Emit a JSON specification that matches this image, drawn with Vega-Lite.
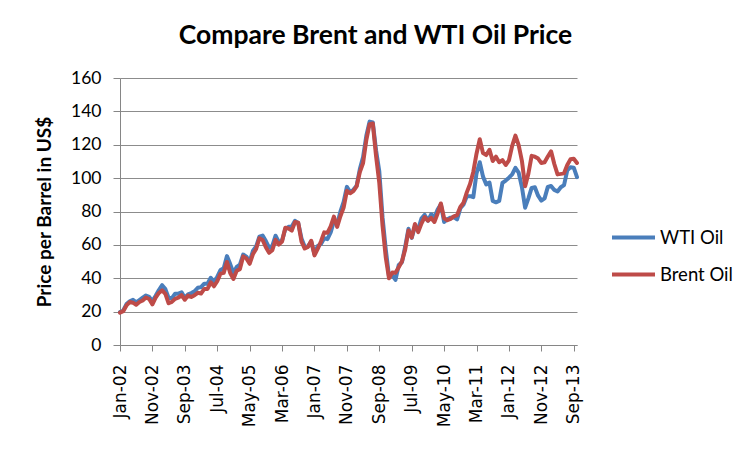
{
  "$schema": "https://vega.github.io/schema/vega-lite/v6.json",
  "autosize": {"type": "none"},
  "width": 457,
  "height": 267,
  "padding": {"left": 120, "top": 78, "right": 177, "bottom": 109},
  "background": "white",
  "title": {
    "text": "Compare Brent and WTI Oil Price",
    "font": "Lato",
    "fontSize": 26.5,
    "fontWeight": "bold",
    "color": "black",
    "anchor": "middle",
    "dx": 27,
    "offset": 20
  },
  "data": {
    "values": [
      {"month": "Jan-02", "WTI Oil": 19.71, "Brent Oil": 19.42},
      {"month": "Feb-02", "WTI Oil": 20.72, "Brent Oil": 20.28},
      {"month": "Mar-02", "WTI Oil": 24.53, "Brent Oil": 23.70},
      {"month": "Apr-02", "WTI Oil": 26.18, "Brent Oil": 25.73},
      {"month": "May-02", "WTI Oil": 27.04, "Brent Oil": 25.35},
      {"month": "Jun-02", "WTI Oil": 25.52, "Brent Oil": 24.08},
      {"month": "Jul-02", "WTI Oil": 26.97, "Brent Oil": 25.74},
      {"month": "Aug-02", "WTI Oil": 28.39, "Brent Oil": 26.65},
      {"month": "Sep-02", "WTI Oil": 29.66, "Brent Oil": 28.40},
      {"month": "Oct-02", "WTI Oil": 28.84, "Brent Oil": 27.54},
      {"month": "Nov-02", "WTI Oil": 26.35, "Brent Oil": 24.34},
      {"month": "Dec-02", "WTI Oil": 29.46, "Brent Oil": 28.33},
      {"month": "Jan-03", "WTI Oil": 32.95, "Brent Oil": 31.18},
      {"month": "Feb-03", "WTI Oil": 35.83, "Brent Oil": 32.77},
      {"month": "Mar-03", "WTI Oil": 33.51, "Brent Oil": 30.61},
      {"month": "Apr-03", "WTI Oil": 28.17, "Brent Oil": 25.00},
      {"month": "May-03", "WTI Oil": 28.11, "Brent Oil": 25.86},
      {"month": "Jun-03", "WTI Oil": 30.66, "Brent Oil": 27.65},
      {"month": "Jul-03", "WTI Oil": 30.76, "Brent Oil": 28.35},
      {"month": "Aug-03", "WTI Oil": 31.57, "Brent Oil": 29.89},
      {"month": "Sep-03", "WTI Oil": 28.31, "Brent Oil": 27.11},
      {"month": "Oct-03", "WTI Oil": 30.34, "Brent Oil": 29.61},
      {"month": "Nov-03", "WTI Oil": 31.11, "Brent Oil": 28.75},
      {"month": "Dec-03", "WTI Oil": 32.13, "Brent Oil": 29.81},
      {"month": "Jan-04", "WTI Oil": 34.31, "Brent Oil": 31.28},
      {"month": "Feb-04", "WTI Oil": 34.69, "Brent Oil": 30.86},
      {"month": "Mar-04", "WTI Oil": 36.74, "Brent Oil": 33.63},
      {"month": "Apr-04", "WTI Oil": 36.75, "Brent Oil": 33.59},
      {"month": "May-04", "WTI Oil": 40.28, "Brent Oil": 37.57},
      {"month": "Jun-04", "WTI Oil": 38.03, "Brent Oil": 35.18},
      {"month": "Jul-04", "WTI Oil": 40.78, "Brent Oil": 38.22},
      {"month": "Aug-04", "WTI Oil": 44.90, "Brent Oil": 42.74},
      {"month": "Sep-04", "WTI Oil": 45.94, "Brent Oil": 43.20},
      {"month": "Oct-04", "WTI Oil": 53.28, "Brent Oil": 49.78},
      {"month": "Nov-04", "WTI Oil": 48.47, "Brent Oil": 43.11},
      {"month": "Dec-04", "WTI Oil": 43.15, "Brent Oil": 39.60},
      {"month": "Jan-05", "WTI Oil": 46.84, "Brent Oil": 44.51},
      {"month": "Feb-05", "WTI Oil": 48.15, "Brent Oil": 45.48},
      {"month": "Mar-05", "WTI Oil": 54.19, "Brent Oil": 53.10},
      {"month": "Apr-05", "WTI Oil": 52.98, "Brent Oil": 51.88},
      {"month": "May-05", "WTI Oil": 49.83, "Brent Oil": 48.65},
      {"month": "Jun-05", "WTI Oil": 56.35, "Brent Oil": 54.35},
      {"month": "Jul-05", "WTI Oil": 59.00, "Brent Oil": 57.52},
      {"month": "Aug-05", "WTI Oil": 64.99, "Brent Oil": 63.98},
      {"month": "Sep-05", "WTI Oil": 65.59, "Brent Oil": 62.91},
      {"month": "Oct-05", "WTI Oil": 62.26, "Brent Oil": 58.54},
      {"month": "Nov-05", "WTI Oil": 58.32, "Brent Oil": 55.24},
      {"month": "Dec-05", "WTI Oil": 59.41, "Brent Oil": 56.86},
      {"month": "Jan-06", "WTI Oil": 65.49, "Brent Oil": 62.99},
      {"month": "Feb-06", "WTI Oil": 61.63, "Brent Oil": 60.21},
      {"month": "Mar-06", "WTI Oil": 62.69, "Brent Oil": 62.06},
      {"month": "Apr-06", "WTI Oil": 69.44, "Brent Oil": 70.26},
      {"month": "May-06", "WTI Oil": 70.84, "Brent Oil": 69.78},
      {"month": "Jun-06", "WTI Oil": 70.95, "Brent Oil": 68.56},
      {"month": "Jul-06", "WTI Oil": 74.41, "Brent Oil": 73.67},
      {"month": "Aug-06", "WTI Oil": 73.04, "Brent Oil": 73.23},
      {"month": "Sep-06", "WTI Oil": 63.80, "Brent Oil": 61.96},
      {"month": "Oct-06", "WTI Oil": 58.89, "Brent Oil": 57.81},
      {"month": "Nov-06", "WTI Oil": 59.08, "Brent Oil": 58.76},
      {"month": "Dec-06", "WTI Oil": 61.96, "Brent Oil": 62.47},
      {"month": "Jan-07", "WTI Oil": 54.51, "Brent Oil": 53.68},
      {"month": "Feb-07", "WTI Oil": 59.28, "Brent Oil": 57.56},
      {"month": "Mar-07", "WTI Oil": 60.44, "Brent Oil": 62.05},
      {"month": "Apr-07", "WTI Oil": 63.98, "Brent Oil": 67.49},
      {"month": "May-07", "WTI Oil": 63.46, "Brent Oil": 67.21},
      {"month": "Jun-07", "WTI Oil": 67.49, "Brent Oil": 71.05},
      {"month": "Jul-07", "WTI Oil": 74.12, "Brent Oil": 76.93},
      {"month": "Aug-07", "WTI Oil": 72.36, "Brent Oil": 70.76},
      {"month": "Sep-07", "WTI Oil": 79.92, "Brent Oil": 77.17},
      {"month": "Oct-07", "WTI Oil": 85.80, "Brent Oil": 82.34},
      {"month": "Nov-07", "WTI Oil": 94.77, "Brent Oil": 92.41},
      {"month": "Dec-07", "WTI Oil": 91.69, "Brent Oil": 90.93},
      {"month": "Jan-08", "WTI Oil": 92.97, "Brent Oil": 92.18},
      {"month": "Feb-08", "WTI Oil": 95.39, "Brent Oil": 94.99},
      {"month": "Mar-08", "WTI Oil": 105.45, "Brent Oil": 103.64},
      {"month": "Apr-08", "WTI Oil": 112.58, "Brent Oil": 109.07},
      {"month": "May-08", "WTI Oil": 125.40, "Brent Oil": 122.80},
      {"month": "Jun-08", "WTI Oil": 133.88, "Brent Oil": 132.32},
      {"month": "Jul-08", "WTI Oil": 133.37, "Brent Oil": 132.72},
      {"month": "Aug-08", "WTI Oil": 116.67, "Brent Oil": 113.24},
      {"month": "Sep-08", "WTI Oil": 104.11, "Brent Oil": 97.23},
      {"month": "Oct-08", "WTI Oil": 76.61, "Brent Oil": 71.58},
      {"month": "Nov-08", "WTI Oil": 57.31, "Brent Oil": 52.45},
      {"month": "Dec-08", "WTI Oil": 41.12, "Brent Oil": 39.95},
      {"month": "Jan-09", "WTI Oil": 41.71, "Brent Oil": 43.44},
      {"month": "Feb-09", "WTI Oil": 39.09, "Brent Oil": 43.32},
      {"month": "Mar-09", "WTI Oil": 47.94, "Brent Oil": 46.54},
      {"month": "Apr-09", "WTI Oil": 49.65, "Brent Oil": 50.18},
      {"month": "May-09", "WTI Oil": 59.03, "Brent Oil": 57.30},
      {"month": "Jun-09", "WTI Oil": 69.64, "Brent Oil": 68.61},
      {"month": "Jul-09", "WTI Oil": 64.15, "Brent Oil": 64.44},
      {"month": "Aug-09", "WTI Oil": 71.05, "Brent Oil": 72.51},
      {"month": "Sep-09", "WTI Oil": 69.41, "Brent Oil": 67.65},
      {"month": "Oct-09", "WTI Oil": 75.72, "Brent Oil": 72.77},
      {"month": "Nov-09", "WTI Oil": 77.99, "Brent Oil": 76.66},
      {"month": "Dec-09", "WTI Oil": 74.47, "Brent Oil": 74.46},
      {"month": "Jan-10", "WTI Oil": 78.33, "Brent Oil": 76.17},
      {"month": "Feb-10", "WTI Oil": 76.39, "Brent Oil": 73.75},
      {"month": "Mar-10", "WTI Oil": 81.20, "Brent Oil": 78.83},
      {"month": "Apr-10", "WTI Oil": 84.29, "Brent Oil": 84.82},
      {"month": "May-10", "WTI Oil": 73.74, "Brent Oil": 75.95},
      {"month": "Jun-10", "WTI Oil": 75.34, "Brent Oil": 74.76},
      {"month": "Jul-10", "WTI Oil": 76.32, "Brent Oil": 75.58},
      {"month": "Aug-10", "WTI Oil": 76.60, "Brent Oil": 77.04},
      {"month": "Sep-10", "WTI Oil": 75.24, "Brent Oil": 77.84},
      {"month": "Oct-10", "WTI Oil": 81.89, "Brent Oil": 82.67},
      {"month": "Nov-10", "WTI Oil": 84.25, "Brent Oil": 85.28},
      {"month": "Dec-10", "WTI Oil": 89.15, "Brent Oil": 91.45},
      {"month": "Jan-11", "WTI Oil": 89.17, "Brent Oil": 96.52},
      {"month": "Feb-11", "WTI Oil": 88.58, "Brent Oil": 103.72},
      {"month": "Mar-11", "WTI Oil": 102.86, "Brent Oil": 114.64},
      {"month": "Apr-11", "WTI Oil": 109.53, "Brent Oil": 123.26},
      {"month": "May-11", "WTI Oil": 100.90, "Brent Oil": 114.99},
      {"month": "Jun-11", "WTI Oil": 96.26, "Brent Oil": 113.83},
      {"month": "Jul-11", "WTI Oil": 97.30, "Brent Oil": 116.97},
      {"month": "Aug-11", "WTI Oil": 86.33, "Brent Oil": 110.22},
      {"month": "Sep-11", "WTI Oil": 85.52, "Brent Oil": 112.83},
      {"month": "Oct-11", "WTI Oil": 86.32, "Brent Oil": 109.55},
      {"month": "Nov-11", "WTI Oil": 97.16, "Brent Oil": 110.77},
      {"month": "Dec-11", "WTI Oil": 98.56, "Brent Oil": 107.87},
      {"month": "Jan-12", "WTI Oil": 100.27, "Brent Oil": 110.69},
      {"month": "Feb-12", "WTI Oil": 102.20, "Brent Oil": 119.33},
      {"month": "Mar-12", "WTI Oil": 106.16, "Brent Oil": 125.45},
      {"month": "Apr-12", "WTI Oil": 103.32, "Brent Oil": 119.75},
      {"month": "May-12", "WTI Oil": 94.66, "Brent Oil": 110.34},
      {"month": "Jun-12", "WTI Oil": 82.30, "Brent Oil": 95.16},
      {"month": "Jul-12", "WTI Oil": 87.90, "Brent Oil": 102.62},
      {"month": "Aug-12", "WTI Oil": 94.13, "Brent Oil": 113.36},
      {"month": "Sep-12", "WTI Oil": 94.51, "Brent Oil": 112.86},
      {"month": "Oct-12", "WTI Oil": 89.49, "Brent Oil": 111.71},
      {"month": "Nov-12", "WTI Oil": 86.53, "Brent Oil": 109.06},
      {"month": "Dec-12", "WTI Oil": 87.86, "Brent Oil": 109.49},
      {"month": "Jan-13", "WTI Oil": 94.76, "Brent Oil": 112.96},
      {"month": "Feb-13", "WTI Oil": 95.31, "Brent Oil": 116.05},
      {"month": "Mar-13", "WTI Oil": 92.94, "Brent Oil": 108.47},
      {"month": "Apr-13", "WTI Oil": 92.02, "Brent Oil": 102.25},
      {"month": "May-13", "WTI Oil": 94.51, "Brent Oil": 102.56},
      {"month": "Jun-13", "WTI Oil": 95.77, "Brent Oil": 102.92},
      {"month": "Jul-13", "WTI Oil": 104.67, "Brent Oil": 107.93},
      {"month": "Aug-13", "WTI Oil": 106.57, "Brent Oil": 111.28},
      {"month": "Sep-13", "WTI Oil": 106.29, "Brent Oil": 111.60},
      {"month": "Oct-13", "WTI Oil": 100.54, "Brent Oil": 109.08}
    ]
  },
  "transform": [
    {"fold": ["WTI Oil", "Brent Oil"], "as": ["series", "price"]}
  ],
  "mark": {"type": "line", "strokeWidth": 4, "strokeJoin": "round", "strokeCap": "round"},
  "encoding": {
    "x": {
      "field": "month",
      "type": "ordinal",
      "sort": null,
      "scale": {"type": "point", "padding": 0},
      "axis": {
        "title": null,
        "values": ["Jan-02", "Nov-02", "Sep-03", "Jul-04", "May-05", "Mar-06", "Jan-07", "Nov-07", "Sep-08", "Jul-09", "May-10", "Mar-11", "Jan-12", "Nov-12", "Sep-13"],
        "labelAngle": -90,
        "labelAlign": "right",
        "labelBaseline": "middle",
        "labelFont": "DejaVu Sans",
        "labelFontSize": 17,
        "labelColor": "black",
        "labelPadding": 13,
        "tickSize": 6,
        "tickColor": "#868686",
        "domainColor": "#868686",
        "grid": false
      }
    },
    "y": {
      "field": "price",
      "type": "quantitative",
      "scale": {"domain": [0, 160], "nice": false},
      "axis": {
        "title": "Price per Barrel in US$",
        "titleFont": "Lato",
        "titleFontSize": 19,
        "titleFontWeight": "bold",
        "titleColor": "black",
        "titlePadding": 16,
        "values": [0, 20, 40, 60, 80, 100, 120, 140, 160],
        "labelFont": "Lato",
        "labelFontSize": 17.5,
        "labelColor": "black",
        "labelPadding": 12,
        "tickSize": 7,
        "tickColor": "#868686",
        "domainColor": "#868686",
        "grid": true,
        "gridColor": "#8c8c8c",
        "gridWidth": 1
      }
    },
    "color": {
      "field": "series",
      "type": "nominal",
      "scale": {"domain": ["WTI Oil", "Brent Oil"], "range": ["#4a7ebb", "#be4b48"]},
      "legend": {
        "title": null,
        "orient": "none",
        "legendX": 490,
        "legendY": 136,
        "symbolType": "stroke",
        "symbolSize": 1849,
        "symbolStrokeWidth": 4,
        "labelFont": "Lato",
        "labelFontSize": 18.5,
        "labelColor": "black",
        "labelOffset": 3,
        "rowPadding": 4,
        "padding": 0
      }
    }
  },
  "config": {
    "view": {"stroke": null},
    "axis": {"domainWidth": 1, "tickWidth": 1}
  }
}
